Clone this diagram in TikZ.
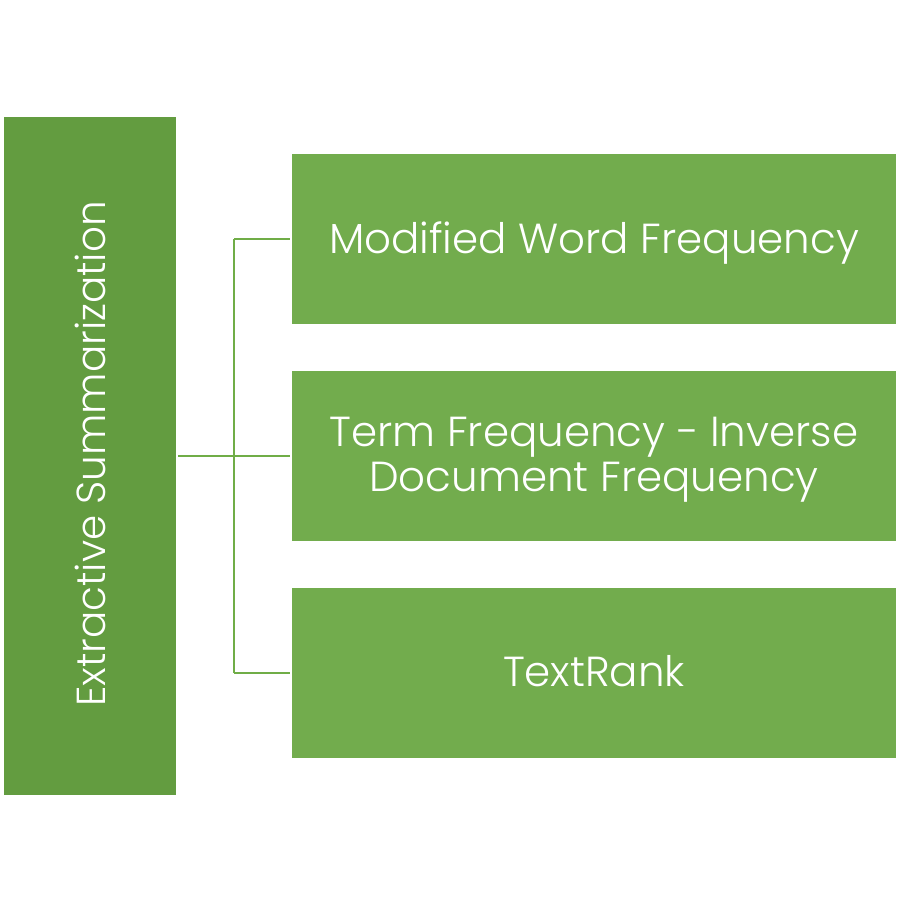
\documentclass[tikz,border=0pt]{standalone}
\usepackage{fontspec}
\setmainfont{Poppins}[UprightFont=* Light]
\definecolor{leftgreen}{HTML}{639C40}
\definecolor{boxgreen}{HTML}{72AC4D}
\definecolor{linegreen}{HTML}{70AD47}
\tikzset{
  rootbox/.style={fill=leftgreen, draw=none, minimum width=172pt, minimum height=678pt, inner sep=0pt},
  leafbox/.style={fill=boxgreen, draw=none, minimum width=604pt, minimum height=170pt, inner sep=0pt},
  leaftext/.style={text=white, font=\fontsize{42}{45}\selectfont, align=center, inner sep=0pt, yshift=-4pt},
  conn/.style={draw=linegreen, line width=1.4pt}
}
\begin{document}
\begin{tikzpicture}[x=1pt,y=-1pt]
\useasboundingbox (0,0) rectangle (900,913);
\node[rootbox] (root) at (90,456) {};
\node[rotate=90, text=white, font=\fontsize{40.5}{42}\selectfont] (rootlabel) at ([yshift=2pt]root.center) {Extractive Summarization};
\node[leafbox] (a) at (594,239) {};
\node[leafbox] (b) at (594,456) {};
\node[leafbox] (c) at (594,673) {};
\node[leaftext] (at) at (a.center) {Modified Word Frequency};
\node[leaftext] (bt) at (b.center) {Term Frequency - Inverse\\Document Frequency};
\node[leaftext, yshift=6pt] (ct) at (c.center) {TextRank};
\coordinate (j) at (234,456);
\draw[conn] ([xshift=2pt]root.east) -- ([xshift=-2pt]b.west);
\draw[conn] (j |- a.west) -- ([xshift=-2pt]a.west);
\draw[conn] (j |- c.west) -- ([xshift=-2pt]c.west);
\draw[conn] (j |- a.west) -- (j |- c.west);
\end{tikzpicture}
\end{document}
